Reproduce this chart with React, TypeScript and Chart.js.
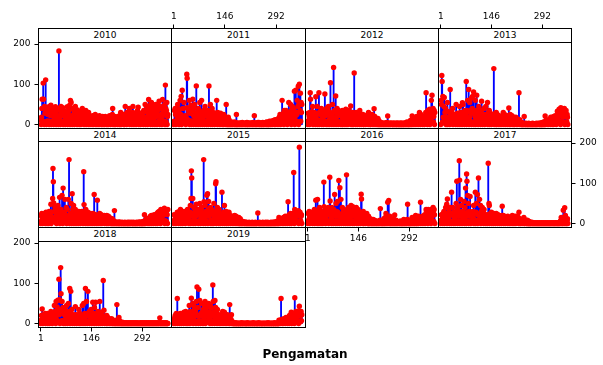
import React, { useEffect, useRef } from 'react';
import { Chart, registerables } from 'chart.js';

Chart.register(...registerables);

// ---- tick labels / categories ----
const years = ['2010', '2011', '2012', '2013', '2014', '2015', '2016', '2017', '2018', '2019'];
const xTickValues = [1, 146, 292];
const yTickValues = [0, 100, 200];
const xAxisTitle = 'Pengamatan';

// ---- series values (one value per observation, 365 per year) ----
const v2010 = [
  12, 0, 18, 40, 63, 6, 8, 103, 63, 2,
  0, 45, 28, 7, 111, 35, 0, 5, 30, 9,
  25, 4, 38, 44, 0, 8, 30, 6, 22, 48,
  0, 26, 35, 9, 5, 28, 40, 0, 20, 7,
  16, 3, 44, 25, 0, 12, 22, 35, 6, 18,
  0, 40, 183, 8, 14, 36, 0, 25, 45, 5,
  30, 7, 22, 42, 0, 5, 34, 9, 28, 10,
  0, 18, 25, 6, 30, 15, 44, 0, 12, 26,
  35, 4, 20, 48, 0, 60, 15, 55, 8, 8,
  0, 18, 40, 7, 25, 35, 0, 20, 28, 45,
  15, 5, 8, 30, 0, 36, 12, 9, 5, 20,
  0, 14, 32, 6, 22, 0, 6, 26, 3, 40,
  20, 8, 28, 8, 0, 25, 4, 30, 14, 35,
  0, 6, 22, 9, 26, 8, 0, 30, 5, 20,
  14, 0, 5, 18, 7, 10, 16, 0, 22, 4,
  18, 0, 14, 6, 4, 12, 25, 0, 16, 8,
  5, 0, 20, 3, 12, 0, 3, 10, 22, 0,
  14, 6, 18, 4, 0, 16, 0, 20, 7, 5,
  0, 18, 4, 0, 8, 20, 5, 10, 0, 3,
  8, 0, 5, 12, 0, 4, 10, 22, 6, 14,
  0, 4, 15, 7, 18, 25, 40, 0, 12, 5,
  5, 0, 20, 8, 0, 4, 18, 6, 6, 15,
  0, 12, 20, 5, 16, 0, 22, 6, 0, 30,
  10, 0, 4, 12, 7, 8, 15, 25, 0, 14,
  0, 10, 45, 6, 8, 22, 0, 30, 5, 9,
  14, 25, 4, 20, 40, 0, 18, 6, 28, 8,
  16, 0, 8, 30, 45, 7, 20, 0, 25, 12,
  5, 8, 24, 0, 30, 10, 6, 35, 12, 43,
  16, 0, 10, 20, 7, 28, 0, 22, 18, 4,
  25, 9, 30, 10, 0, 35, 18, 6, 12, 50,
  0, 32, 15, 8, 45, 18, 0, 22, 40, 62,
  25, 6, 15, 30, 48, 0, 35, 55, 9, 18,
  40, 0, 30, 15, 45, 7, 35, 0, 28, 50,
  5, 20, 42, 0, 35, 25, 48, 8, 38, 58,
  22, 0, 45, 18, 6, 25, 40, 0, 20, 62,
  30, 45, 9, 38, 25, 50, 0, 98, 40, 7,
  35, 55, 0, 20, 25,
];

const v2011 = [
  0, 8, 35, 6, 40, 25, 0, 30, 5, 9,
  18, 50, 4, 10, 32, 0, 38, 22, 60, 7,
  25, 70, 0, 18, 85, 6, 40, 12, 3, 55,
  15, 8, 22, 8, 0, 18, 42, 125, 115, 5,
  12, 38, 7, 30, 60, 0, 28, 9, 35, 48,
  0, 8, 30, 5, 63, 25, 0, 40, 20, 50,
  6, 28, 10, 0, 96, 22, 8, 30, 8, 0,
  40, 4, 20, 32, 55, 0, 28, 10, 7, 60,
  18, 0, 12, 25, 6, 35, 20, 0, 28, 45,
  5, 22, 30, 0, 25, 8, 9, 35, 0, 18,
  96, 6, 15, 30, 50, 0, 22, 7, 28, 40,
  0, 20, 30, 4, 25, 15, 0, 10, 22, 8,
  28, 5, 60, 20, 0, 30, 9, 25, 10, 0,
  18, 6, 8, 28, 0, 12, 25, 4, 20, 0,
  10, 0, 25, 6, 3, 20, 0, 12, 5, 50,
  0, 6, 0, 10, 0, 18, 0, 12, 0, 5,
  0, 3, 0, 6, 0, 4, 0, 5, 0, 2,
  4, 0, 6, 0, 3, 0, 5, 0, 25, 0,
  0, 3, 0, 1, 0, 4, 0, 2, 0, 3,
  0, 4, 0, 3, 0, 5, 0, 1, 0, 2,
  3, 0, 2, 0, 4, 0, 3, 0, 5, 0,
  0, 4, 0, 3, 0, 2, 0, 4, 0, 3,
  2, 0, 3, 0, 4, 0, 5, 0, 3, 22,
  0, 4, 0, 3, 0, 2, 0, 4, 0, 5,
  3, 0, 5, 0, 2, 0, 4, 0, 3, 0,
  0, 3, 0, 5, 0, 4, 0, 2, 0, 4,
  4, 0, 5, 0, 6, 0, 4, 0, 5, 0,
  0, 5, 8, 0, 6, 0, 5, 8, 0, 7,
  6, 0, 5, 10, 3, 4, 0, 6, 12, 0,
  8, 4, 12, 6, 0, 10, 5, 8, 15, 0,
  18, 6, 25, 14, 0, 20, 12, 7, 60, 15,
  5, 10, 28, 0, 35, 12, 8, 15, 20, 35,
  6, 28, 20, 0, 18, 30, 9, 55, 25, 4,
  30, 7, 50, 15, 0, 35, 20, 45, 8, 18,
  5, 40, 25, 83, 0, 20, 28, 85, 9, 30,
  25, 60, 6, 45, 95, 0, 50, 100, 7, 35,
  78, 8, 55, 30, 50,
];

const v2012 = [
  0, 28, 10, 6, 20, 0, 30, 79, 63, 8,
  25, 4, 32, 15, 45, 0, 12, 7, 18, 30,
  5, 25, 0, 69, 20, 9, 12, 45, 0, 8,
  28, 6, 79, 0, 10, 32, 4, 25, 12, 40,
  0, 30, 7, 25, 18, 0, 28, 5, 35, 76,
  22, 8, 30, 0, 40, 25, 6, 28, 0, 45,
  4, 32, 12, 0, 18, 104, 7, 15, 28, 0,
  22, 50, 5, 30, 142, 0, 12, 35, 9, 15,
  71, 0, 18, 30, 40, 6, 25, 0, 35, 4,
  28, 7, 22, 32, 0, 25, 5, 30, 0, 35,
  15, 0, 30, 8, 22, 18, 0, 12, 6, 38,
  0, 15, 30, 5, 20, 0, 10, 22, 35, 7,
  12, 4, 20, 46, 0, 28, 9, 22, 0, 30,
  25, 0, 20, 128, 6, 28, 15, 0, 22, 30,
  5, 20, 0, 8, 18, 7, 15, 22, 0, 35,
  20, 6, 25, 0, 8, 22, 4, 10, 25, 0,
  15, 0, 20, 12, 5, 10, 0, 22, 8, 6,
  20, 7, 25, 0, 30, 15, 4, 22, 0, 18,
  0, 20, 6, 8, 25, 0, 18, 5, 22, 0,
  39, 4, 20, 0, 15, 6, 10, 0, 6, 12,
  0, 15, 0, 10, 0, 4, 0, 6, 0, 5,
  0, 3, 0, 1, 0, 4, 0, 2, 0, 3,
  0, 2, 0, 4, 0, 3, 0, 5, 0, 21,
  0, 2, 0, 3, 0, 1, 0, 4, 0, 2,
  3, 0, 2, 0, 0, 4, 0, 2, 0, 3,
  0, 2, 0, 3, 0, 0, 4, 0, 2, 0,
  3, 0, 0, 2, 0, 4, 0, 0, 3, 0,
  0, 3, 0, 2, 0, 0, 4, 0, 2, 0,
  4, 0, 3, 0, 6, 0, 2, 0, 5, 0,
  0, 6, 0, 3, 10, 0, 4, 0, 5, 21,
  0, 10, 5, 12, 0, 15, 3, 10, 0, 8,
  15, 4, 20, 0, 8, 18, 6, 14, 0, 12,
  30, 7, 20, 0, 25, 15, 5, 12, 18, 0,
  15, 6, 10, 20, 0, 15, 22, 8, 30, 79,
  4, 28, 15, 0, 35, 18, 7, 30, 15, 38,
  0, 20, 30, 9, 60, 28, 73, 5, 30, 40,
  6, 20, 35, 0, 30,
];

const v2013 = [
  0, 60, 50, 122, 107, 6, 70, 18, 4, 45,
  67, 8, 30, 12, 40, 0, 18, 5, 10, 55,
  0, 15, 32, 7, 12, 30, 0, 87, 25, 6,
  22, 4, 15, 28, 40, 0, 25, 9, 18, 20,
  5, 12, 25, 0, 50, 22, 7, 10, 28, 0,
  20, 6, 12, 28, 45, 0, 25, 4, 30, 8,
  15, 0, 54, 20, 50, 5, 30, 18, 0, 35,
  7, 15, 28, 107, 0, 35, 18, 60, 6, 12,
  87, 0, 18, 55, 30, 8, 35, 65, 0, 28,
  40, 70, 5, 30, 81, 0, 35, 7, 20, 60,
  0, 15, 35, 73, 6, 30, 12, 0, 18, 45,
  22, 4, 15, 28, 0, 12, 35, 58, 8, 25,
  0, 15, 22, 6, 40, 18, 0, 25, 5, 45,
  15, 7, 20, 12, 55, 0, 18, 30, 4, 35,
  0, 12, 28, 5, 25, 0, 20, 8, 15, 22,
  6, 25, 139, 0, 10, 22, 4, 28, 0, 30,
  18, 0, 25, 7, 8, 20, 0, 22, 5, 18,
  0, 12, 18, 6, 20, 0, 10, 22, 4, 30,
  10, 0, 12, 25, 5, 15, 0, 10, 18, 7,
  22, 0, 15, 6, 10, 41, 0, 18, 4, 25,
  0, 18, 5, 15, 22, 0, 14, 6, 18, 0,
  8, 0, 10, 4, 12, 18, 0, 10, 5, 14,
  0, 12, 6, 10, 79, 0, 12, 3, 4, 0,
  6, 0, 3, 0, 0, 2, 0, 4, 0, 20,
  0, 2, 0, 0, 3, 0, 1, 0, 0, 2,
  0, 0, 3, 0, 1, 0, 0, 2, 0, 0,
  2, 0, 0, 3, 0, 0, 1, 0, 2, 0,
  0, 2, 0, 0, 3, 0, 0, 2, 0, 1,
  3, 0, 0, 2, 0, 4, 0, 0, 3, 0,
  0, 5, 0, 2, 0, 6, 0, 3, 0, 21,
  0, 10, 3, 5, 8, 0, 10, 4, 12, 0,
  10, 5, 8, 12, 0, 18, 6, 8, 14, 0,
  18, 6, 15, 0, 20, 12, 4, 10, 22, 7,
  18, 0, 22, 15, 33, 6, 12, 25, 5, 38,
  8, 22, 28, 0, 42, 25, 6, 30, 20, 35,
  25, 7, 30, 22, 40, 0, 20, 32, 5, 35,
  22, 6, 25, 18, 0,
];

const v2014 = [
  0, 20, 6, 25, 15, 0, 10, 22, 4, 20,
  15, 7, 25, 0, 18, 28, 5, 20, 0, 22,
  6, 18, 25, 0, 30, 15, 8, 10, 25, 48,
  0, 28, 15, 5, 62, 137, 104, 51, 7, 30,
  15, 40, 6, 18, 30, 0, 22, 35, 9, 45,
  20, 4, 15, 30, 65, 0, 25, 8, 35, 22,
  5, 70, 18, 0, 88, 15, 7, 20, 28, 60,
  22, 6, 15, 40, 0, 18, 35, 9, 12, 60,
  4, 159, 20, 0, 18, 25, 6, 50, 15, 0,
  74, 8, 35, 18, 45, 0, 12, 30, 5, 35,
  18, 0, 15, 22, 7, 12, 25, 0, 20, 30,
  6, 22, 28, 0, 20, 9, 15, 30, 4, 22,
  12, 0, 18, 129, 47, 6, 15, 28, 0, 35,
  5, 12, 25, 0, 15, 28, 7, 22, 0, 25,
  15, 4, 12, 25, 0, 10, 22, 6, 20, 0,
  25, 8, 18, 72, 0, 20, 5, 22, 12, 0,
  20, 6, 58, 15, 0, 12, 18, 4, 20, 25,
  0, 18, 7, 22, 15, 0, 20, 5, 18, 10,
  3, 8, 20, 0, 10, 6, 8, 15, 0, 20,
  10, 0, 8, 4, 18, 0, 6, 15, 3, 8,
  0, 8, 0, 6, 0, 12, 0, 8, 0, 6,
  0, 32, 0, 3, 0, 4, 0, 2, 0, 3,
  0, 2, 0, 3, 0, 0, 4, 0, 1, 0,
  2, 0, 0, 3, 0, 1, 0, 0, 2, 0,
  0, 3, 0, 0, 2, 0, 1, 0, 0, 3,
  0, 0, 2, 0, 3, 0, 0, 1, 0, 2,
  3, 0, 0, 2, 0, 0, 3, 0, 1, 0,
  0, 2, 0, 0, 3, 0, 2, 0, 0, 3,
  2, 0, 3, 0, 0, 4, 0, 2, 0, 0,
  3, 0, 0, 5, 0, 3, 0, 22, 0, 6,
  0, 10, 4, 5, 12, 0, 10, 6, 12, 0,
  10, 5, 15, 0, 18, 10, 7, 20, 0, 16,
  6, 12, 20, 0, 10, 22, 5, 14, 20, 0,
  15, 8, 18, 25, 0, 22, 28, 6, 20, 30,
  4, 18, 25, 0, 35, 20, 9, 22, 25, 33,
  20, 6, 25, 22, 38, 0, 30, 7, 28, 30,
  5, 32, 22, 0, 35,
];

const v2015 = [
  0, 22, 8, 5, 12, 18, 0, 10, 20, 6,
  28, 4, 18, 25, 0, 22, 30, 7, 18, 35,
  0, 25, 6, 30, 15, 0, 10, 28, 5, 30,
  20, 8, 28, 0, 25, 18, 4, 22, 15, 35,
  6, 25, 12, 0, 20, 7, 28, 45, 0, 62,
  131, 113, 5, 18, 62, 0, 20, 40, 8, 28,
  22, 0, 18, 25, 48, 6, 30, 4, 28, 35,
  0, 25, 30, 7, 50, 22, 0, 15, 35, 40,
  20, 5, 15, 25, 0, 159, 54, 8, 18, 45,
  0, 30, 18, 6, 70, 28, 74, 0, 35, 55,
  18, 4, 22, 25, 40, 0, 28, 9, 35, 0,
  25, 6, 30, 0, 50, 18, 5, 15, 25, 99,
  104, 0, 30, 18, 40, 7, 15, 28, 0, 35,
  5, 25, 12, 0, 22, 15, 8, 78, 20, 0,
  15, 6, 28, 12, 45, 0, 25, 4, 20, 30,
  0, 22, 7, 25, 10, 0, 15, 28, 5, 18,
  20, 0, 18, 6, 15, 12, 0, 8, 18, 4,
  10, 0, 12, 20, 5, 15, 0, 18, 3, 8,
  0, 10, 4, 12, 0, 15, 0, 10, 0, 12,
  0, 6, 0, 4, 0, 3, 0, 5, 0, 2,
  3, 0, 0, 2, 0, 4, 0, 0, 1, 0,
  0, 2, 0, 0, 3, 0, 0, 2, 0, 0,
  2, 0, 0, 3, 0, 0, 1, 0, 0, 2,
  0, 0, 3, 0, 0, 2, 0, 0, 1, 26,
  0, 2, 0, 0, 3, 0, 0, 1, 0, 0,
  2, 0, 0, 3, 0, 0, 2, 0, 0, 1,
  0, 3, 0, 0, 2, 0, 0, 3, 0, 0,
  1, 0, 0, 2, 0, 0, 3, 0, 0, 2,
  0, 3, 0, 0, 2, 0, 4, 0, 0, 3,
  0, 4, 0, 3, 0, 6, 0, 5, 0, 15,
  0, 8, 4, 10, 0, 12, 6, 5, 10, 0,
  12, 5, 15, 0, 6, 12, 4, 18, 0, 14,
  6, 15, 12, 0, 15, 54, 8, 18, 22, 0,
  15, 5, 25, 18, 0, 15, 22, 7, 18, 25,
  6, 127, 22, 0, 35, 25, 8, 28, 22, 4,
  18, 25, 5, 28, 32, 0, 25, 190, 7, 28,
  20, 6, 18, 22, 0,
];

const v2016 = [
  0, 25, 8, 5, 30, 15, 0, 10, 20, 6,
  18, 4, 28, 15, 0, 12, 22, 7, 25, 35,
  0, 28, 20, 58, 6, 12, 30, 0, 60, 25,
  5, 28, 0, 12, 40, 8, 30, 18, 0, 30,
  20, 6, 28, 0, 25, 15, 103, 42, 4, 30,
  18, 0, 12, 30, 35, 7, 28, 5, 22, 40,
  0, 25, 30, 115, 56, 6, 28, 15, 0, 40,
  25, 8, 30, 0, 35, 22, 5, 72, 20, 0,
  18, 50, 6, 30, 0, 55, 28, 7, 25, 107,
  0, 18, 89, 4, 20, 60, 0, 15, 22, 40,
  6, 18, 30, 0, 35, 15, 8, 20, 18, 0,
  30, 121, 5, 25, 15, 0, 22, 40, 7, 30,
  20, 0, 15, 30, 45, 6, 18, 28, 0, 42,
  4, 20, 30, 0, 38, 22, 8, 18, 25, 40,
  0, 28, 15, 6, 35, 0, 25, 12, 5, 28,
  15, 0, 18, 73, 61, 7, 12, 25, 0, 30,
  0, 20, 4, 8, 18, 0, 10, 15, 6, 25,
  10, 0, 8, 0, 18, 0, 10, 0, 8, 12,
  0, 10, 0, 5, 0, 6, 0, 10, 0, 8,
  0, 8, 0, 4, 0, 5, 0, 6, 0, 3,
  0, 4, 0, 5, 0, 6, 0, 8, 37, 0,
  3, 0, 4, 0, 5, 0, 6, 0, 12, 0,
  10, 0, 15, 0, 25, 12, 0, 18, 0, 53,
  12, 0, 57, 15, 0, 18, 0, 12, 0, 10,
  0, 5, 0, 6, 0, 12, 0, 8, 0, 21,
  0, 3, 0, 8, 0, 4, 0, 5, 0, 2,
  4, 0, 5, 0, 3, 0, 6, 0, 2, 0,
  0, 5, 0, 4, 0, 10, 0, 4, 0, 6,
  0, 4, 0, 8, 0, 10, 48, 0, 4, 0,
  5, 0, 8, 0, 6, 0, 5, 0, 6, 15,
  0, 6, 0, 5, 12, 0, 6, 0, 8, 20,
  0, 12, 0, 15, 10, 0, 12, 18, 0, 8,
  12, 4, 10, 53, 0, 8, 15, 5, 12, 18,
  0, 12, 18, 6, 10, 22, 0, 12, 15, 35,
  30, 7, 22, 15, 0, 35, 20, 5, 25, 22,
  6, 20, 25, 0, 35, 22, 8, 25, 20, 40,
  30, 5, 35, 22, 0,
];

const v2017 = [
  0, 8, 22, 5, 20, 18, 0, 25, 6, 30,
  12, 0, 18, 8, 40, 4, 25, 48, 0, 61,
  18, 7, 10, 22, 35, 0, 20, 40, 5, 25,
  0, 78, 22, 6, 40, 25, 0, 20, 28, 8,
  15, 0, 18, 30, 50, 4, 105, 25, 0, 40,
  6, 18, 30, 156, 108, 0, 20, 60, 7, 45,
  18, 0, 30, 22, 5, 15, 28, 55, 0, 40,
  8, 88, 18, 0, 123, 105, 6, 70, 28, 50,
  0, 30, 18, 4, 67, 22, 0, 28, 20, 7,
  18, 5, 30, 15, 45, 0, 28, 6, 25, 78,
  0, 28, 50, 8, 25, 72, 0, 22, 113, 5,
  20, 60, 6, 18, 45, 0, 30, 15, 4, 40,
  7, 22, 28, 0, 35, 20, 5, 12, 22, 0,
  15, 6, 18, 22, 0, 20, 150, 8, 50, 45,
  0, 15, 25, 5, 12, 28, 0, 15, 22, 6,
  18, 0, 25, 15, 4, 10, 22, 0, 12, 25,
  6, 20, 10, 0, 22, 12, 5, 8, 20, 0,
  12, 4, 10, 15, 0, 20, 43, 6, 18, 20,
  0, 15, 18, 5, 12, 0, 15, 10, 4, 12,
  15, 0, 18, 6, 8, 15, 0, 10, 12, 5,
  12, 0, 8, 15, 4, 20, 0, 8, 15, 6,
  0, 15, 5, 18, 12, 0, 15, 6, 12, 18,
  4, 12, 15, 0, 28, 6, 12, 0, 10, 8,
  0, 8, 4, 10, 6, 0, 8, 3, 15, 0,
  8, 0, 6, 3, 8, 0, 6, 0, 8, 0,
  6, 0, 0, 5, 0, 0, 3, 0, 0, 2,
  0, 3, 0, 0, 2, 0, 0, 1, 0, 0,
  2, 0, 0, 1, 0, 0, 2, 0, 0, 1,
  0, 0, 2, 0, 0, 1, 0, 0, 2, 0,
  0, 1, 0, 0, 2, 0, 0, 1, 0, 0,
  2, 0, 0, 1, 0, 0, 2, 0, 0, 1,
  0, 0, 2, 0, 0, 1, 0, 0, 2, 0,
  1, 0, 0, 2, 0, 0, 1, 0, 0, 2,
  0, 2, 0, 0, 1, 0, 0, 2, 0, 0,
  3, 0, 5, 0, 6, 15, 0, 10, 0, 12,
  0, 33, 8, 0, 15, 39, 0, 20, 8, 0,
  10, 0, 8, 12, 0,
];

const v2018 = [
  0, 8, 20, 5, 36, 18, 0, 22, 6, 20,
  12, 4, 8, 25, 0, 10, 20, 7, 18, 25,
  0, 22, 5, 8, 18, 0, 12, 20, 6, 30,
  18, 7, 25, 0, 22, 10, 4, 18, 20, 45,
  6, 30, 18, 0, 55, 20, 8, 41, 22, 58,
  30, 5, 110, 22, 59, 0, 35, 139, 74, 6,
  30, 55, 7, 28, 40, 0, 25, 5, 22, 35,
  0, 28, 15, 6, 45, 18, 0, 30, 15, 50,
  4, 18, 28, 87, 0, 25, 80, 7, 22, 35,
  15, 0, 18, 22, 6, 12, 20, 0, 15, 42,
  5, 22, 15, 0, 12, 20, 7, 10, 22, 35,
  0, 20, 25, 6, 18, 0, 10, 20, 4, 45,
  18, 0, 15, 50, 7, 12, 25, 0, 87, 22,
  5, 55, 20, 0, 25, 80, 6, 22, 18, 30,
  0, 22, 18, 8, 35, 12, 0, 18, 22, 53,
  6, 20, 25, 0, 40, 12, 5, 53, 18, 0,
  12, 4, 15, 22, 30, 0, 18, 7, 20, 55,
  0, 18, 15, 6, 28, 20, 0, 15, 18, 107,
  5, 33, 15, 0, 18, 7, 10, 15, 0, 20,
  12, 0, 15, 4, 6, 12, 0, 10, 5, 6,
  0, 10, 3, 12, 0, 5, 0, 6, 8, 0,
  6, 0, 5, 0, 6, 0, 8, 0, 47, 0,
  4, 0, 5, 0, 15, 0, 6, 0, 3, 0,
  0, 2, 0, 0, 3, 0, 0, 1, 0, 0,
  2, 0, 0, 1, 0, 0, 2, 0, 0, 1,
  0, 0, 2, 0, 0, 1, 0, 0, 2, 0,
  0, 1, 0, 0, 2, 0, 0, 1, 0, 0,
  2, 0, 0, 1, 0, 0, 2, 0, 0, 1,
  0, 0, 1, 0, 0, 2, 0, 0, 1, 0,
  0, 2, 0, 0, 1, 0, 0, 2, 0, 0,
  1, 0, 0, 2, 0, 0, 1, 0, 0, 2,
  0, 0, 1, 0, 0, 2, 0, 0, 1, 0,
  0, 2, 0, 0, 1, 0, 0, 2, 0, 0,
  1, 0, 0, 2, 0, 0, 1, 0, 0, 2,
  0, 14, 0, 0, 1, 0, 0, 2, 0, 0,
  1, 0, 0, 2, 0, 0, 1, 0, 0, 2,
  0, 0, 1, 0, 0,
];

const v2019 = [
  0, 10, 4, 15, 20, 0, 12, 25, 6, 10,
  62, 0, 8, 18, 23, 5, 15, 0, 12, 25,
  6, 15, 0, 20, 20, 4, 18, 12, 0, 28,
  15, 7, 10, 22, 30, 0, 18, 25, 5, 25,
  0, 12, 22, 6, 45, 20, 0, 30, 15, 8,
  63, 4, 25, 20, 50, 0, 15, 45, 7, 35,
  20, 5, 30, 0, 55, 22, 91, 6, 20, 40,
  0, 85, 18, 7, 57, 20, 0, 22, 25, 50,
  5, 28, 20, 0, 35, 15, 8, 45, 20, 55,
  0, 18, 30, 6, 40, 22, 4, 18, 25, 50,
  7, 28, 15, 0, 45, 18, 5, 38, 20, 0,
  25, 96, 55, 6, 18, 28, 0, 57, 15, 40,
  4, 18, 28, 0, 35, 20, 7, 12, 22, 0,
  18, 5, 12, 20, 0, 15, 22, 6, 10, 30,
  0, 20, 12, 4, 28, 10, 0, 15, 20, 7,
  12, 0, 22, 15, 5, 10, 20, 0, 18, 47,
  0, 20, 6, 10, 22, 0, 5, 0, 3, 0,
  0, 0, 1, 0, 0, 0, 2, 0, 0, 0,
  0, 1, 0, 0, 0, 0, 0, 1, 0, 0,
  0, 0, 0, 2, 0, 0, 0, 0, 1, 0,
  0, 0, 1, 0, 0, 0, 0, 0, 0, 2,
  0, 0, 0, 0, 1, 0, 0, 0, 0, 0,
  1, 0, 0, 0, 0, 0, 2, 0, 0, 0,
  0, 0, 0, 1, 0, 0, 0, 0, 0, 0,
  0, 2, 0, 0, 0, 0, 1, 0, 0, 0,
  0, 0, 0, 0, 0, 1, 0, 0, 0, 0,
  0, 0, 1, 0, 0, 0, 0, 0, 2, 0,
  0, 0, 0, 0, 1, 0, 0, 0, 0, 0,
  1, 0, 0, 0, 0, 0, 0, 2, 0, 0,
  0, 0, 0, 1, 0, 0, 0, 0, 0, 8,
  0, 3, 8, 0, 6, 62, 2, 10, 0, 10,
  5, 0, 3, 12, 4, 4, 10, 0, 8, 15,
  3, 10, 4, 0, 8, 5, 15, 6, 0, 20,
  8, 4, 6, 15, 28, 0, 18, 5, 12, 25,
  6, 15, 8, 0, 64, 12, 4, 30, 15, 7,
  22, 25, 5, 18, 31, 0, 20, 43, 6, 25,
  4, 20, 30, 7, 22,
];

const seriesByYear = [v2010, v2011, v2012, v2013, v2014, v2015, v2016, v2017, v2018, v2019];

// ---- layout (positions / sizes / styles) ----
const W = 603;
const H = 365;
const colX = [38, 171, 305, 438, 571];
const rowStrip = [28, 128, 227];
const rowTop = [42, 141, 241];
const rowBottom = [128, 227, 327];
const X_MIN = -5.5;
const X_MAX = 375.5;
const Y_MIN = -10;
const Y_MAX = 204;
const FONT = '"DejaVu Sans", Verdana, sans-serif';

type Spec = { col: number; row: number; xPos: 'top' | 'bottom' | null; yPos: 'left' | 'right' | null };
const specs: Spec[] = [
  { col: 0, row: 0, xPos: null, yPos: 'left' },
  { col: 1, row: 0, xPos: 'top', yPos: null },
  { col: 2, row: 0, xPos: null, yPos: null },
  { col: 3, row: 0, xPos: 'top', yPos: null },
  { col: 0, row: 1, xPos: null, yPos: null },
  { col: 1, row: 1, xPos: null, yPos: null },
  { col: 2, row: 1, xPos: 'bottom', yPos: null },
  { col: 3, row: 1, xPos: null, yPos: 'right' },
  { col: 0, row: 2, xPos: 'bottom', yPos: 'left' },
  { col: 1, row: 2, xPos: null, yPos: null },
];

const framePlugin = {
  id: 'panelFrame',
  afterDatasetsDraw(chart: any) {
    const { ctx, chartArea: a } = chart;
    ctx.save();
    ctx.strokeStyle = '#000';
    ctx.lineWidth = 1;
    ctx.strokeRect(a.left, a.top, a.right - a.left, a.bottom - a.top);
    ctx.restore();
  },
};

function Panel({ values, spec }: { values: number[]; spec: Spec }) {
  const ref = useRef<HTMLCanvasElement | null>(null);
  useEffect(() => {
    if (!ref.current) return;
    const left = colX[spec.col] + 0.5;
    const right = colX[spec.col + 1] + 0.5;
    const top = rowTop[spec.row] + 0.5;
    const bottom = rowBottom[spec.row] + 0.5;
    const YW = 30;
    const XH_TOP = 34;
    const XH_BOT = 20;
    const showX = spec.xPos !== null;
    const showY = spec.yPos !== null;
    const topTickLen = rowTop[spec.row] - rowStrip[spec.row] + 4;
    const padding = {
      left: left - (spec.yPos === 'left' ? YW : 0),
      right: W - right - (spec.yPos === 'right' ? YW : 0),
      top: top - (spec.xPos === 'top' ? XH_TOP : 0),
      bottom: H - bottom - (spec.xPos === 'bottom' ? XH_BOT : 0),
    };
    const pts = values.map((v, i) => ({ x: i + 1, y: v }));
    const chart = new Chart(ref.current, {
      type: 'bar',
      data: {
        datasets: [
          {
            type: 'line',
            data: pts,
            showLine: false,
            pointRadius: 2.7,
            pointHoverRadius: 2.7,
            pointBackgroundColor: '#ff0000',
            pointBorderWidth: 0,
            pointBorderColor: '#ff0000',
            clip: 0,
            order: 1,
          } as any,
          {
            type: 'bar',
            data: pts,
            backgroundColor: '#0000ff',
            borderWidth: 0,
            barThickness: 1.2,
            clip: 0,
            order: 2,
          } as any,
        ],
      },
      options: {
        animation: false,
        responsive: false,
        maintainAspectRatio: false,
        events: [],
        layout: { padding, autoPadding: false } as any,
        plugins: { legend: { display: false }, tooltip: { enabled: false }, title: { display: false } },
        scales: {
          x: {
            type: 'linear',
            display: showX,
            position: spec.xPos ?? 'bottom',
            min: X_MIN,
            max: X_MAX,
            offset: false,
            afterBuildTicks: (axis: any) => {
              axis.ticks = xTickValues.map((v) => ({ value: v }));
            },
            afterFit: (axis: any) => {
              axis.height = showX ? (spec.xPos === 'top' ? XH_TOP : XH_BOT) : 0;
            },
            grid: {
              display: true,
              offset: false,
              drawOnChartArea: false,
              drawTicks: true,
              tickLength: spec.xPos === 'top' ? topTickLen : 4,
              tickColor: '#000',
              lineWidth: 1,
            },
            border: { display: false },
            ticks: {
              autoSkip: false,
              maxRotation: 0,
              minRotation: 0,
              padding: 2,
              color: '#000',
              font: { family: FONT, size: 9 },
            },
          },
          y: {
            type: 'linear',
            display: showY,
            position: spec.yPos ?? 'left',
            min: Y_MIN,
            max: Y_MAX,
            afterBuildTicks: (axis: any) => {
              axis.ticks = yTickValues.map((v) => ({ value: v }));
            },
            afterFit: (axis: any) => {
              axis.width = showY ? YW : 0;
            },
            grid: {
              display: true,
              drawOnChartArea: false,
              drawTicks: true,
              tickLength: 4,
              tickColor: '#000',
              lineWidth: 1,
            },
            border: { display: false },
            ticks: {
              autoSkip: false,
              padding: 4,
              color: '#000',
              font: { family: FONT, size: 9 },
            },
          },
        },
      } as any,
      plugins: [framePlugin],
    });
    return () => chart.destroy();
  }, [values, spec]);
  return (
    <canvas
      ref={ref}
      width={W}
      height={H}
      style={{ position: 'absolute', left: 0, top: 0, width: W, height: H }}
    />
  );
}

export default function App() {
  return (
    <div style={{ position: 'absolute', left: 0, top: 0, width: W, height: H, background: '#fff', overflow: 'hidden' }}>
      {years.map((y, i) => (
        <Panel key={y} values={seriesByYear[i]} spec={specs[i]} />
      ))}
      {years.map((y, i) => {
        const s = specs[i];
        const h = rowTop[s.row] - rowStrip[s.row] + 1;
        return (
          <div
            key={'strip' + y}
            style={{
              position: 'absolute',
              left: colX[s.col],
              top: rowStrip[s.row],
              width: colX[s.col + 1] - colX[s.col] + 1,
              height: h,
              boxSizing: 'border-box',
              border: '1px solid #000',
              background: '#fff',
              color: '#000',
              fontFamily: FONT,
              fontSize: 9,
              lineHeight: h - 2 + 'px',
              textAlign: 'center',
              overflow: 'hidden',
            }}
          >
            {y}
          </div>
        );
      })}
      <div
        style={{
          position: 'absolute',
          left: 205,
          top: 347,
          width: 200,
          textAlign: 'center',
          fontFamily: FONT,
          fontWeight: 'bold',
          fontSize: 12,
          lineHeight: '14px',
          color: '#000',
        }}
      >
        {xAxisTitle}
      </div>
    </div>
  );
}
